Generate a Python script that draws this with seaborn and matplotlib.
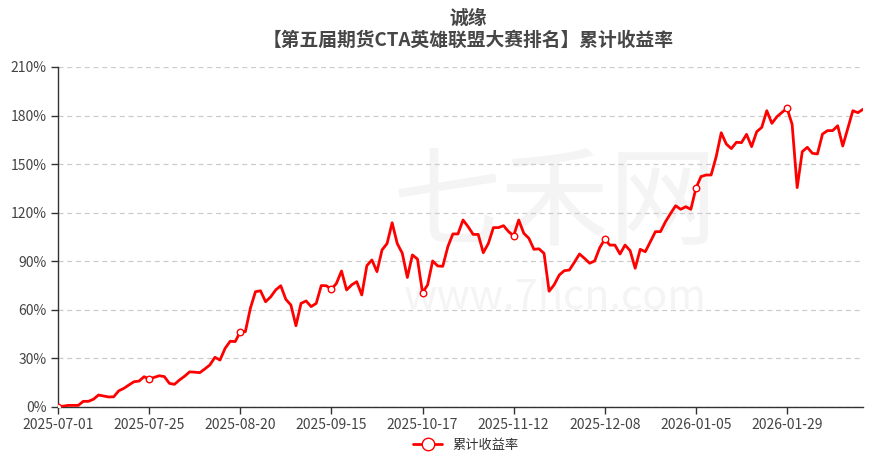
import pandas as pd
import matplotlib.pyplot as plt
import seaborn as sns
from matplotlib.lines import Line2D
from matplotlib.ticker import FuncFormatter

# Cumulative return (%) per trading day
returns = [
    0.0, 0.5, 1.0, 1.0, 1.0, 3.5, 3.5, 4.8, 7.4, 6.8,
    6.2, 6.3, 10.0, 11.5, 13.6, 15.6, 16.0, 18.7, 17.3, 18.3,
    19.3, 18.8, 14.6, 14.0, 16.7, 19.0, 21.7, 21.5, 21.2, 23.5,
    26.0, 30.7, 29.0, 36.2, 40.6, 40.4, 46.5, 46.5, 61.0, 71.2,
    71.8, 65.0, 68.0, 72.3, 74.9, 66.5, 63.0, 50.2, 64.0, 65.5,
    62.0, 64.0, 75.0, 74.9, 72.7, 76.4, 84.0, 72.3, 75.4, 77.4,
    69.2, 87.3, 90.8, 83.6, 97.0, 101.0, 113.8, 101.0, 95.0, 80.0,
    93.9, 91.4, 70.6, 75.4, 90.2, 87.1, 86.9, 99.0, 106.9, 106.9,
    115.5, 111.4, 106.6, 106.6, 95.3, 101.0, 110.8, 110.8, 112.0, 108.3,
    105.8, 115.5, 107.3, 104.2, 97.4, 97.7, 94.9, 71.5, 75.5, 81.5,
    84.2, 84.6, 89.4, 94.5, 91.8, 88.8, 90.2, 98.4, 103.6, 100.0,
    100.0, 94.5, 100.0, 96.6, 85.7, 97.4, 95.9, 102.1, 108.3, 108.3,
    114.5, 119.6, 124.3, 122.1, 123.7, 122.1, 135.1, 142.3, 143.3, 143.3,
    154.6, 169.4, 162.4, 159.6, 163.5, 163.3, 168.4, 160.8, 170.0, 172.7,
    183.0, 175.2, 179.3, 182.0, 184.5, 174.6, 135.5, 157.7, 160.4, 156.7,
    156.3, 168.6, 170.7, 170.7, 173.7, 161.2, 172.1, 183.0, 181.8, 183.9,
]

# Exchange holidays (weekdays without trading)
holidays = [
    "2025-10-01", "2025-10-02", "2025-10-03", "2025-10-06", "2025-10-07", "2025-10-08",
    "2026-01-01", "2026-01-02",
    "2026-02-16", "2026-02-17", "2026-02-18", "2026-02-19", "2026-02-20", "2026-02-23",
]

series_name = "累计收益率"
title_top = "诚缘"
title_main = "【第五届期货CTA英雄联盟大赛排名】累计收益率"
y_ticks = [0, 30, 60, 90, 120, 150, 180, 210]
label_step = 18

days = pd.bdate_range("2025-07-01", "2026-03-31")
days = days[~days.isin(pd.to_datetime(holidays))][:len(returns)]
df = pd.DataFrame({"date": days.strftime("%Y-%m-%d"), "ret": returns})
df["pos"] = range(len(df))
marked = df.iloc[::label_step]

sns.set_style("white")
plt.rcParams["font.family"] = ["Noto Sans CJK SC", "DejaVu Sans"]

fig, ax = plt.subplots(figsize=(8.88, 4.67), dpi=100)
fig.subplots_adjust(left=58 / 888, right=863 / 888, top=1 - 67 / 467, bottom=1 - 407 / 467)

# faint site watermark, kept under the line
ax.text(0.625, 0.56, "七禾网", transform=fig.transFigure, fontsize=78, color="#f4f4f4",
        ha="center", va="center", zorder=0)
ax.text(0.625, 0.365, "www.7hcn.com", transform=fig.transFigure, fontsize=30,
        color="#f4f4f4", ha="center", va="center", zorder=0)

sns.lineplot(data=df, x="pos", y="ret", ax=ax, color="#ff0000", linewidth=2, zorder=3)
sns.scatterplot(data=marked, x="pos", y="ret", ax=ax, marker="o", s=22, color="white",
                edgecolor="#ff0000", linewidth=1, zorder=4)

ax.set_xlim(0, len(df) - 1)
ax.set_ylim(0, 210)
ax.set_yticks(y_ticks)
ax.yaxis.set_major_formatter(FuncFormatter(lambda v, _: f"{v:.0f}%"))
ax.set_xticks(marked["pos"])
ax.set_xticklabels(marked["date"])
ax.set_xlabel("")
ax.set_ylabel("")

ax.grid(axis="y", color="#cccccc", linestyle=(0, (4, 3)), linewidth=0.9, zorder=1)
ax.set_axisbelow(True)
for side in ["top", "right"]:
    ax.spines[side].set_visible(False)
for side in ["left", "bottom"]:
    ax.spines[side].set_color("#333333")
    ax.spines[side].set_linewidth(1)
ax.tick_params(axis="both", length=5, width=1, color="#333333", labelcolor="#444444",
               labelsize=10, pad=3, direction="out")
ax.tick_params(axis="y", left=True)
ax.tick_params(axis="x", bottom=True)

fig.text(0.527, 1 - 18 / 467, title_top, ha="center", va="center", fontsize=13.5,
         fontweight="bold", color="#464646")
fig.text(0.527, 1 - 40 / 467, title_main, ha="center", va="center", fontsize=13.5,
         fontweight="bold", color="#464646")

handle = Line2D([], [], color="#ff0000", linewidth=2, marker="o", markersize=9,
                markerfacecolor="white", markeredgecolor="#ff0000")
fig.legend(handles=[handle], labels=[series_name], loc="center",
           bbox_to_anchor=(0.525, 1 - 445 / 467), frameon=False, fontsize=9.5,
           handlelength=2.2, labelcolor="#333333")

plt.savefig("out.png", dpi=100)
